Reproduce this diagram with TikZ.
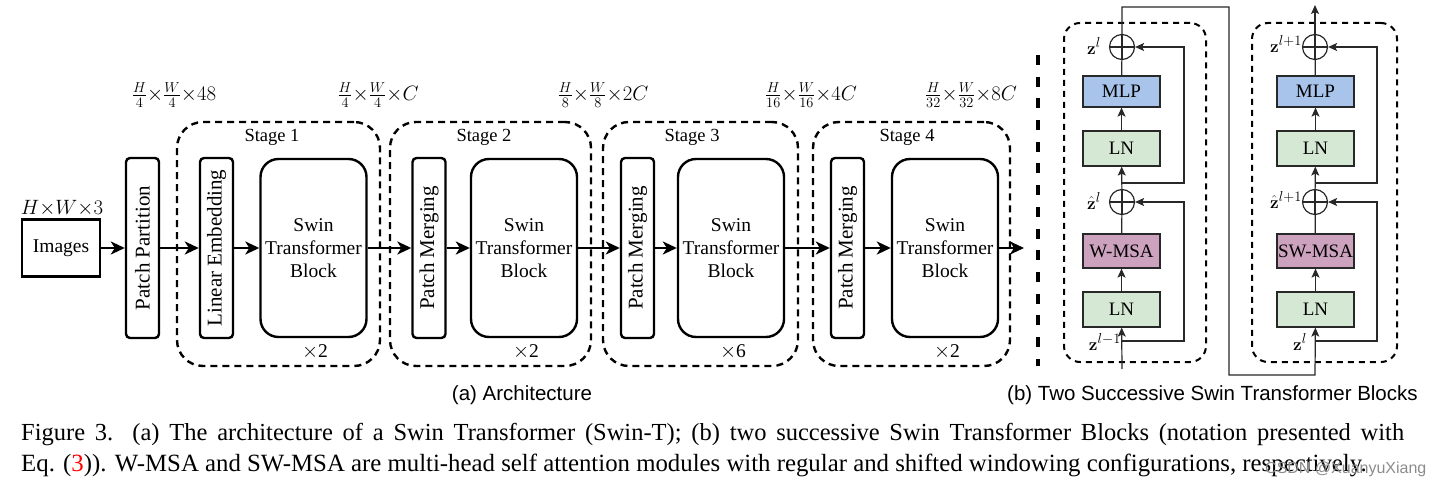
\documentclass[tikz,border=0pt]{standalone}
\usepackage[no-math]{fontspec}
\setmainfont{Liberation Serif}
\newfontfamily\arialfont{Liberation Sans}
\usetikzlibrary{arrows.meta,calc}
\definecolor{mlpc}{RGB}{169,196,235}
\definecolor{lnc}{RGB}{213,232,212}
\definecolor{msac}{RGB}{205,162,190}
\definecolor{edgec}{RGB}{40,40,40}
\begin{document}
\begin{tikzpicture}[x=1pt,y=-1pt,
  font=\fontsize{19.5}{23}\selectfont,
  thinbar/.style={draw, line width=2.4pt, rounded corners=4pt, minimum width=33pt, minimum height=180pt, inner sep=0pt},
  vtxt/.style={rotate=90, font=\fontsize{21}{24}\selectfont, inner sep=0pt},
  swin/.style={draw, line width=2.4pt, rounded corners=18pt, minimum width=106pt, minimum height=178pt, align=center, inner sep=0pt},
  stagebox/.style={draw, line width=2.4pt, dash pattern=on 7pt off 5pt, rounded corners=26pt, minimum height=244pt, inner sep=0pt},
  stlbl/.style={font=\fontsize{18.5}{22}\selectfont},
  arr/.style={line width=2.4pt, -{Stealth[length=14pt,width=13pt,inset=4pt]}},
  dimlbl/.style={font=\fontsize{20.5}{24}\selectfont, inner sep=0pt},
  bx/.style={draw=edgec, line width=1.2pt, minimum width=77pt, inner sep=0pt, font=\fontsize{19}{21}\selectfont},
  addc/.style={circle, draw=edgec, line width=1.2pt, minimum size=25pt, inner sep=0pt,
    path picture={\draw[edgec, line width=1.2pt] (path picture bounding box.north) -- (path picture bounding box.south)
      (path picture bounding box.west) -- (path picture bounding box.east);}},
  sline/.style={draw=edgec, line width=1.2pt},
  sarr/.style={draw=edgec, line width=1.2pt, -{Stealth[length=9pt,width=8pt,inset=2pt]}},
  dblk/.style={draw, line width=2pt, dash pattern=on 6pt off 5pt, rounded corners=16pt, inner sep=0pt},
  zlbl/.style={font=\fontsize{19}{21}\selectfont, inner sep=0pt}
]
\useasboundingbox (0,0) rectangle (1435,486);

% ---------- (a) architecture ----------
\node[draw, line width=2.4pt, minimum width=78pt, minimum height=57pt, inner sep=0pt] (img) at (61,248) {Images};
\node[dimlbl] (hw3) at (62,208) {$H{\times}W{\times}3$};

\node[thinbar] (pp) at (142.5,248) {};
\node[vtxt] (pptxt) at (pp.center) {Patch Partition};

\node[stagebox, minimum width=203pt] (st1) at (278.5,244) {};
\node[stlbl] (st1l) at (272,137) {Stage 1};
\node[thinbar] (le) at (216.5,248) {};
\node[vtxt] (letxt) at (le.center) {Linear Embedding};
\node[swin] (sw1) at (313.5,248) {Swin\\Transformer\\Block};
\node (x1) at (315,352) {$\times$2};

\node[stagebox, minimum width=201pt] (st2) at (490.5,244) {};
\node[stlbl] (st2l) at (484,137) {Stage 2};
\node[thinbar] (pm2) at (429,248) {};
\node[vtxt] (pm2txt) at (pm2.center) {Patch Merging};
\node[swin] (sw2) at (524,248) {Swin\\Transformer\\Block};
\node (x2) at (526,352) {$\times$2};

\node[stagebox, minimum width=195pt] (st3) at (700.5,244) {};
\node[stlbl] (st3l) at (692,137) {Stage 3};
\node[thinbar] (pm3) at (637.5,248) {};
\node[vtxt] (pm3txt) at (pm3.center) {Patch Merging};
\node[swin] (sw3) at (731,248) {Swin\\Transformer\\Block};
\node (x3) at (733,352) {$\times$6};

\node[stagebox, minimum width=197pt] (st4) at (911.5,244) {};
\node[stlbl] (st4l) at (907,137) {Stage 4};
\node[thinbar] (pm4) at (847.5,248) {};
\node[vtxt] (pm4txt) at (pm4.center) {Patch Merging};
\node[swin] (sw4) at (945,248) {Swin\\Transformer\\Block};
\node (x4) at (947,352) {$\times$2};

\coordinate (out) at (1024,248);
\draw[arr] (img) -- (pp);
\draw[arr] (pp) -- (le);
\draw[arr] (le) -- (sw1);
\draw[arr] (sw1) -- (pm2);
\draw[arr] (pm2) -- (sw2);
\draw[arr] (sw2) -- (pm3);
\draw[arr] (pm3) -- (sw3);
\draw[arr] (sw3) -- (pm4);
\draw[arr] (pm4) -- (sw4);
\draw[arr] (sw4) -- (out);

\node[dimlbl] (d1) at (174,95) {$\frac{H}{4}{\times}\frac{W}{4}{\times}48$};
\node[dimlbl] (d2) at (378,95) {$\frac{H}{4}{\times}\frac{W}{4}{\times}C$};
\node[dimlbl] (d3) at (603,95) {$\frac{H}{8}{\times}\frac{W}{8}{\times}2C$};
\node[dimlbl] (d4) at (811,95) {$\frac{H}{16}{\times}\frac{W}{16}{\times}4C$};
\node[dimlbl] (d5) at (971,95) {$\frac{H}{32}{\times}\frac{W}{32}{\times}8C$};

% separator
\coordinate (sepa) at (1038,55);
\coordinate (sepb) at (1038,366);
\draw[line width=4pt, dash pattern=on 10pt off 11.7pt] (sepa) -- (sepb);

% ---------- (b) two blocks ----------
\node[dblk, minimum width=142pt, minimum height=339pt] (B1) at (1135,192.5) {};
\node[dblk, minimum width=145pt, minimum height=339pt] (B2) at (1324.5,192.5) {};

% block 1
\node[bx, fill=lnc, minimum height=35pt] (ln1a) at (1121.5,309.5) {LN};
\node[bx, fill=msac, minimum height=34pt] (msa1) at (1121.5,251) {W-MSA};
\node[addc] (add1a) at (1122,202) {};
\node[bx, fill=lnc, minimum height=35pt] (ln1b) at (1121.5,148.5) {LN};
\node[bx, fill=mlpc, minimum height=31pt] (mlp1) at (1121.5,91.5) {MLP};
\node[addc] (add1b) at (1122,47) {};

% block 2
\node[bx, fill=lnc, minimum height=35pt] (ln2a) at (1315.5,309.5) {LN};
\node[bx, fill=msac, minimum height=34pt] (msa2) at (1315.5,251) {SW-MSA};
\node[addc] (add2a) at (1315,202) {};
\node[bx, fill=lnc, minimum height=35pt] (ln2b) at (1315.5,148.5) {LN};
\node[bx, fill=mlpc, minimum height=31pt] (mlp2) at (1315.5,91.5) {MLP};
\node[addc] (add2b) at (1315,47) {};

% block 1 connectors
\coordinate (in1) at (1122,369);
\draw[sarr] (in1) -- (ln1a);
\draw[sarr] (ln1a) -- (msa1);
\draw[sline] (msa1) -- (add1a);
\draw[sarr] (add1a) -- (ln1b);
\draw[sarr] (ln1b) -- (mlp1);
\draw[sline] (mlp1) -- (add1b);
\coordinate (r1a) at (1122,341);
\coordinate (r1b) at (1122,183);
\draw[sarr] (r1a) -- (1184,341) -- (1184,202) -- (add1a);
\draw[sarr] (r1b) -- (1184,183) -- (1184,47) -- (add1b);

% between blocks
\draw[sarr] (add1b) -- (1122,7) -- (1229,7) -- (1229,375) -- (1315,375) -- (ln2a);

% block 2 connectors
\draw[sarr] (ln2a) -- (msa2);
\draw[sline] (msa2) -- (add2a);
\draw[sarr] (add2a) -- (ln2b);
\draw[sarr] (ln2b) -- (mlp2);
\draw[sline] (mlp2) -- (add2b);
\coordinate (r2a) at (1315,341);
\coordinate (r2b) at (1315,183);
\draw[sarr] (r2a) -- (1377,341) -- (1377,202) -- (add2a);
\draw[sarr] (r2b) -- (1377,183) -- (1377,47) -- (add2b);
\coordinate (out2) at (1315,5);
\draw[sarr] (add2b) -- (out2);

% labels
\node[zlbl, anchor=east] (zl1) at (1101,46) {$\mathbf{z}^l$};
\node[zlbl, anchor=east] (zh1) at (1101,201) {$\hat{\mathbf{z}}^l$};
\node[zlbl, anchor=east] (zm1) at (1121,342) {$\mathbf{z}^{l-1}$};
\node[zlbl, anchor=east] (zl2) at (1302,44) {$\mathbf{z}^{l+1}$};
\node[zlbl, anchor=east] (zh2) at (1302,200) {$\hat{\mathbf{z}}^{l+1}$};
\node[zlbl, anchor=east] (zm2) at (1307,342) {$\mathbf{z}^{l}$};

% sub-captions
\node[anchor=base, inner sep=0pt, font=\arialfont\fontsize{20.5}{24}\selectfont] (capa) at (522,400) {(a) Architecture};
\node[anchor=base west, inner sep=0pt, font=\arialfont\fontsize{20.5}{24}\selectfont] (capb) at (1007,400) {(b) Two Successive Swin Transformer Blocks};

% caption
\node[anchor=base west, inner sep=0pt, font=\fontsize{24.5}{28}\selectfont] (cap1) at (21,440)
  {\makebox[1383pt][s]{Figure 3. (a) The architecture of a Swin Transformer (Swin-T); (b) two successive Swin Transformer Blocks (notation presented with}};
\node[anchor=base west, inner sep=0pt, font=\fontsize{24.8}{28}\selectfont] (cap2) at (21,471)
  {Eq. (\textcolor{red}{3})). W-MSA and SW-MSA are multi-head self attention modules with regular and shifted windowing configurations, respectively.};
\node[anchor=base west, inner sep=0pt, text=black!45, font=\arialfont\fontsize{16}{18}\selectfont] (wm) at (1265,473) {CSDN @XuanyuXiang};
\end{tikzpicture}
\end{document}
